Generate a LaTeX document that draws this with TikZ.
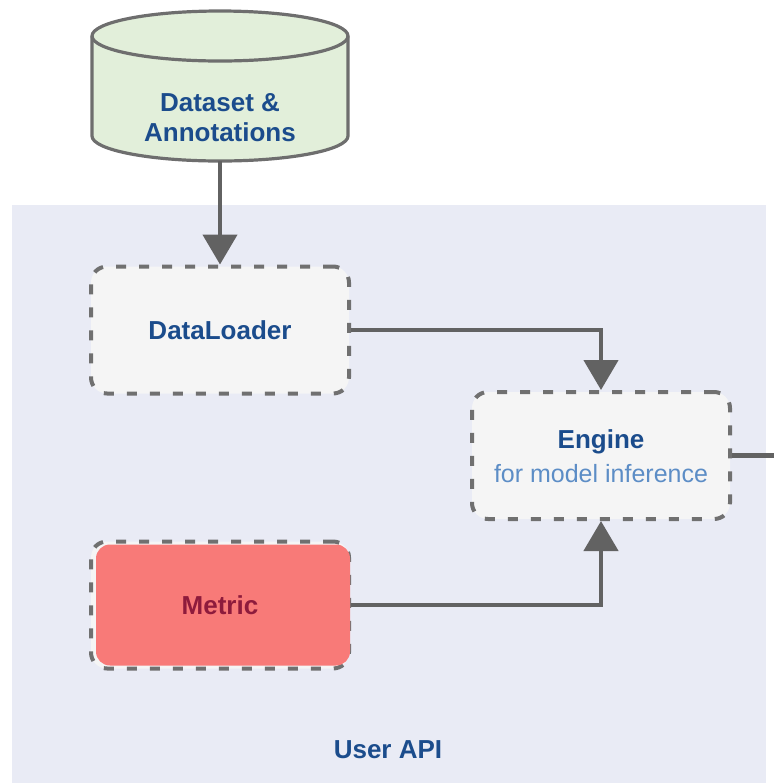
\documentclass[tikz,border=0pt]{standalone}
\usepackage{fontspec}
\setmainfont{Liberation Sans}
\usetikzlibrary{arrows.meta}
\definecolor{panelbg}{HTML}{E9EBF5}
\definecolor{boxbg}{HTML}{F5F5F5}
\definecolor{dashgray}{HTML}{707070}
\definecolor{linegray}{HTML}{626262}
\definecolor{dbfill}{HTML}{E2EFDA}
\definecolor{dbline}{HTML}{6E6E6E}
\definecolor{textblue}{HTML}{1B4C8C}
\definecolor{lightblue}{HTML}{5C8DC6}
\definecolor{metricred}{HTML}{F87A78}
\definecolor{metrictext}{HTML}{8E1B3C}
\tikzset{
  every node/.style={font=\fontsize{13}{15}\selectfont},
  compbox/.style={draw=dashgray, line width=2pt, dash pattern=on 5pt off 6.5pt,
    fill=boxbg, rounded corners=8pt, minimum width=129pt, minimum height=63.5pt,
    inner sep=0pt, align=center},
  conn/.style={draw=linegray, line width=2.3pt,
    -{Triangle[length=15pt,width=17pt]}},
  plainconn/.style={draw=linegray, line width=2.3pt},
  title/.style={text=textblue, font=\fontsize{13}{15}\selectfont\bfseries},
}
\begin{document}
\begin{tikzpicture}[x=0.5pt, y=-0.5pt]
  \useasboundingbox (0,0) rectangle (774,783);

  % user API panel
  \fill[panelbg] (12,205) rectangle (766,783);
  \node[title] (api) at (388,750) {User API};

  % dataset store
  \node[minimum width=127.5pt, minimum height=75pt, inner sep=0pt] (data) at (220,86) {};
  \filldraw[fill=dbfill, draw=dbline, line width=1.6pt]
    (92,36) -- (92,136) arc[start angle=180, end angle=0, x radius=128, y radius=25]
    -- (348,36) arc[start angle=0, end angle=-180, x radius=128, y radius=25] -- cycle;
  \draw[dbline, line width=1.6pt]
    (92,36) arc[start angle=180, end angle=0, x radius=128, y radius=25];
  \node[title, align=center] (datalabel) at (220,118) {Dataset \&\\Annotations};

  % components
  \node[compbox] (loader) at (220,330) {};
  \node[title] (loaderlabel) at (220,330) {DataLoader};

  \node[compbox] (engine) at (601,455.5) {};
  \node[title] (enginelabel) at (601,442) {Engine};
  \node[text=lightblue, font=\fontsize{12.5}{15}\selectfont] (enginesub) at (601,474) {for model inference};

  \node[compbox] (metric) at (220,605) {};
  \fill[metricred, rounded corners=7pt]
    ([xshift=3.5pt,yshift=-2.5pt]metric.north west) rectangle ([xshift=-0.5pt,yshift=2.5pt]metric.south east);
  \node[text=metrictext, font=\fontsize{13}{15}\selectfont\bfseries] (metriclabel) at (220,605) {Metric};

  % connectors
  \coordinate (outedge) at (774,455.5);
  \draw[conn] (data.south) -- (loader.north);
  \draw[conn] (loader.east) -| (engine.north);
  \draw[conn] (metric.east) -| (engine.south);
  \draw[plainconn] (engine.east) -- (outedge);
\end{tikzpicture}
\end{document}
